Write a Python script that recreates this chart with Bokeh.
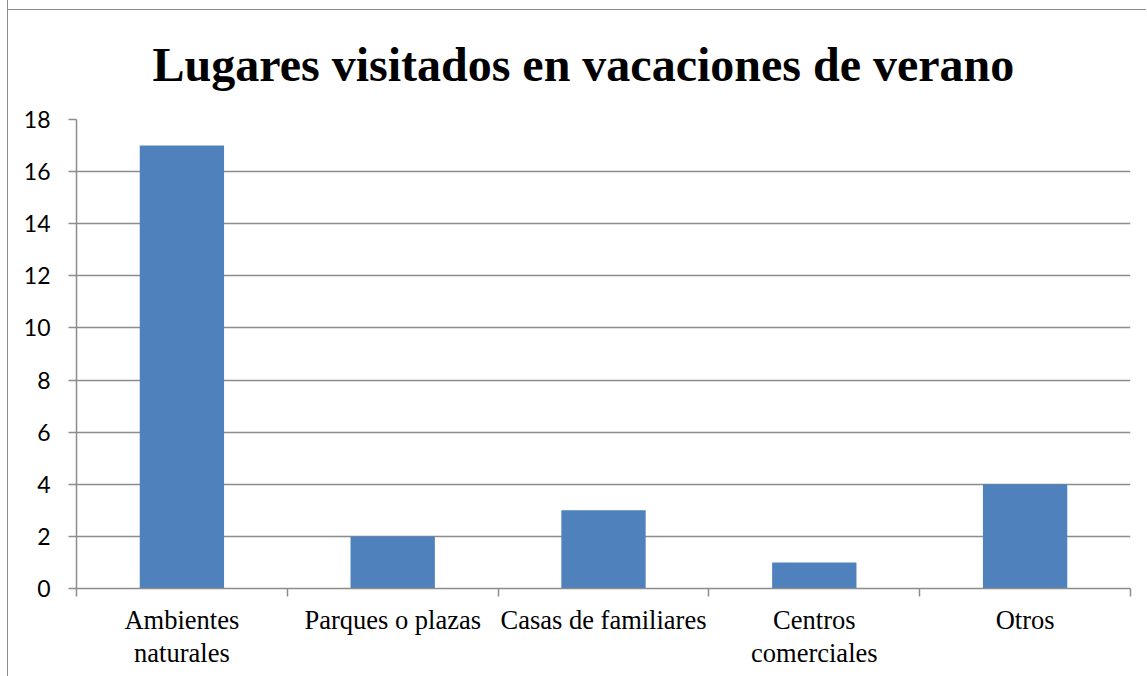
from bokeh.plotting import figure
from bokeh.models import FixedTicker, Range1d, ColumnDataSource
from bokeh.embed import file_html
from bokeh.resources import INLINE

categories = ["Ambientes\nnaturales", "Parques o plazas", "Casas de familiares",
              "Centros\ncomerciales", "Otros"]
values = [17, 2, 3, 1, 4]
y_ticks = [0, 2, 4, 6, 8, 10, 12, 14, 16, 18]
title_text = "Lugares visitados en vacaciones de verano"

centers = [i + 0.5 for i in range(len(categories))]
bounds = list(range(len(categories) + 1))

src = ColumnDataSource(dict(x=centers, top=values))

p = figure(width=1139, height=676, output_backend="svg", toolbar_location=None,
           x_range=Range1d(0, len(categories)), y_range=Range1d(0, 18),
           min_border_left=68, min_border_right=17, min_border_top=119,
           min_border_bottom=88)
p.styles = {"margin-left": "7px",
            "border-left": "1px solid #8c8c8c",
            "background-image": "linear-gradient(#8c8c8c, #8c8c8c)",
            "background-size": "100% 1px",
            "background-position": "0px 9px",
            "background-repeat": "no-repeat"}
p.outline_line_color = None
p.background_fill_color = "white"
p.border_fill_color = None

p.vbar(x="x", top="top", width=0.4, bottom=0, source=src,
       fill_color="#4F81BD", line_color=None)

p.title.text = title_text
p.title.text_font = "Liberation Serif"
p.title.text_font_style = "bold"
p.title.text_font_size = "48px"
p.title.align = "left"
p.title.offset = 76
p.title.standoff = 58
p.title.text_color = "black"

grey = "#8c8c8c"
# y axis
ya = p.yaxis[0]
ya.ticker = FixedTicker(ticks=y_ticks)
ya.axis_line_color = grey
ya.axis_line_width = 1.5
ya.major_tick_line_color = grey
ya.major_tick_line_width = 1.5
ya.major_tick_out = 8
ya.major_tick_in = 0
ya.minor_tick_line_color = None
ya.major_label_text_font = "Lato"
ya.major_label_text_font_size = "23px"
ya.major_label_text_color = "black"
ya.major_label_standoff = 18

# x axis
xa = p.xaxis[0]
xa.ticker = FixedTicker(ticks=centers, minor_ticks=bounds)
xa.major_label_overrides = {c: lab for c, lab in zip(centers, categories)}
xa.axis_line_color = grey
xa.axis_line_width = 1.5
xa.major_tick_line_color = None
xa.major_tick_out = 0
xa.major_tick_in = 0
xa.minor_tick_line_color = grey
xa.minor_tick_line_width = 1.5
xa.minor_tick_out = 8
xa.minor_tick_in = 0
xa.major_label_text_font = "Liberation Serif"
xa.major_label_text_font_size = "26.5px"
xa.major_label_text_color = "black"
xa.major_label_text_line_height = 1.1
xa.major_label_standoff = 8

p.xgrid.grid_line_color = None
p.ygrid.ticker = FixedTicker(ticks=y_ticks)
p.ygrid.grid_line_color = grey
p.ygrid.grid_line_width = 1.5

open("out.html", "w").write(file_html(p, INLINE))
